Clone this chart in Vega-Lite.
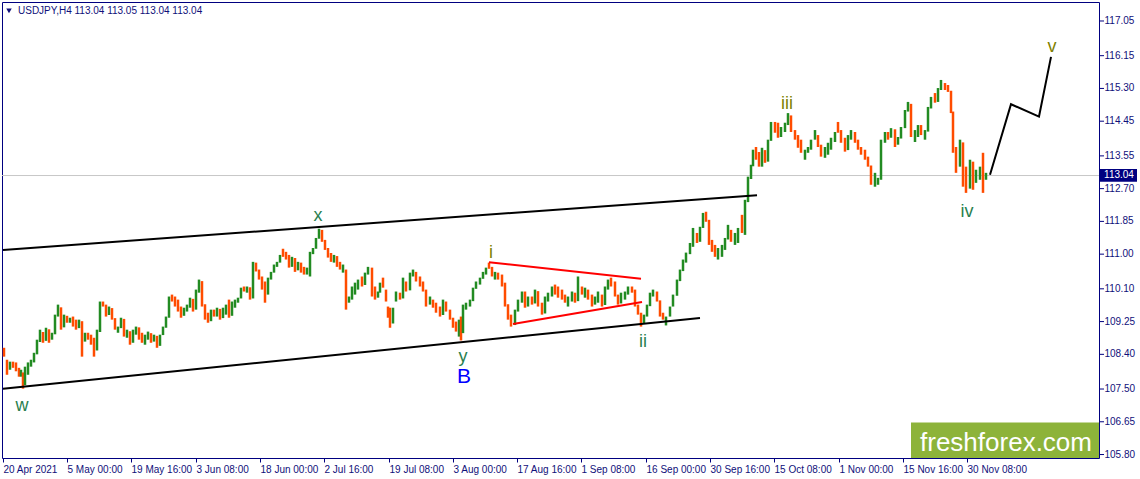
{
"$schema": "https://vega.github.io/schema/vega-lite/v6.json",
"width": 1097, "height": 456,
"autosize": {"type": "none"},
"padding": {"left": 2, "top": 2, "right": 41, "bottom": 21},
"background": "white",
"config": {"view": {"stroke": "#000080", "strokeWidth": 1}, "font": "Liberation Sans",
"axis": {"grid": false, "domain": false, "tickColor": "#000080", "tickSize": 4, "labelColor": "#10107a", "labelFont": "Liberation Sans", "labelFontSize": 10, "labelPadding": 2, "labelOverlap": false, "labelFlush": false, "labelSeparation": 0, "titleColor": "#ffffff"}},
"datasets": {
"bars": [
{"t":1,"o":108.55,"h":108.57,"l":108.34,"c":108.40},
{"t":4,"o":108.20,"h":108.26,"l":107.87,"c":107.98},
{"t":7,"o":108.02,"h":108.21,"l":108.00,"c":108.15},
{"t":10,"o":108.16,"h":108.21,"l":108.05,"c":108.08},
{"t":13,"o":108.10,"h":108.19,"l":107.96,"c":108.00},
{"t":16,"o":108.00,"h":108.05,"l":107.82,"c":107.88},
{"t":18,"o":107.85,"h":108.00,"l":107.82,"c":107.95},
{"t":20,"o":107.90,"h":107.93,"l":107.51,"c":107.60},
{"t":22,"o":107.62,"h":108.08,"l":107.60,"c":108.02},
{"t":25,"o":107.95,"h":108.19,"l":107.87,"c":108.15},
{"t":28,"o":108.12,"h":108.26,"l":108.08,"c":108.22},
{"t":31,"o":108.22,"h":108.44,"l":108.19,"c":108.40},
{"t":34,"o":108.42,"h":108.78,"l":108.40,"c":108.72},
{"t":37,"o":108.74,"h":109.04,"l":108.72,"c":108.98},
{"t":40,"o":108.94,"h":108.98,"l":108.70,"c":108.75},
{"t":43,"o":108.77,"h":109.09,"l":108.75,"c":109.05},
{"t":46,"o":109.00,"h":109.05,"l":108.70,"c":108.78},
{"t":49,"o":108.80,"h":108.96,"l":108.78,"c":108.92},
{"t":52,"o":108.94,"h":109.43,"l":108.92,"c":109.40},
{"t":55,"o":109.40,"h":109.69,"l":109.38,"c":109.62},
{"t":58,"o":109.35,"h":109.62,"l":109.04,"c":109.10},
{"t":61,"o":109.12,"h":109.43,"l":109.10,"c":109.40},
{"t":64,"o":109.36,"h":109.40,"l":109.22,"c":109.26},
{"t":67,"o":109.26,"h":109.35,"l":109.22,"c":109.32},
{"t":70,"o":109.32,"h":109.38,"l":109.12,"c":109.18},
{"t":73,"o":109.18,"h":109.30,"l":109.04,"c":109.08},
{"t":76,"o":109.10,"h":109.30,"l":109.08,"c":109.26},
{"t":79,"o":109.10,"h":109.26,"l":108.34,"c":108.80},
{"t":82,"o":108.78,"h":108.96,"l":108.73,"c":108.90},
{"t":85,"o":108.92,"h":108.96,"l":108.78,"c":108.82},
{"t":88,"o":108.82,"h":108.91,"l":108.65,"c":108.70},
{"t":91,"o":108.70,"h":108.83,"l":108.34,"c":108.50},
{"t":94,"o":108.52,"h":109.04,"l":108.50,"c":109.00},
{"t":97,"o":109.00,"h":109.77,"l":108.98,"c":109.70},
{"t":100,"o":109.75,"h":109.77,"l":109.64,"c":109.66},
{"t":103,"o":109.66,"h":109.69,"l":109.38,"c":109.42},
{"t":106,"o":109.45,"h":109.64,"l":109.42,"c":109.60},
{"t":109,"o":109.55,"h":109.60,"l":109.30,"c":109.34},
{"t":112,"o":109.28,"h":109.34,"l":109.04,"c":109.08},
{"t":115,"o":108.98,"h":109.12,"l":108.96,"c":109.10},
{"t":118,"o":109.10,"h":109.35,"l":109.08,"c":109.32},
{"t":121,"o":109.10,"h":109.32,"l":108.86,"c":108.90},
{"t":124,"o":108.90,"h":109.04,"l":108.83,"c":109.00},
{"t":127,"o":108.96,"h":109.00,"l":108.65,"c":108.70},
{"t":130,"o":108.72,"h":109.04,"l":108.70,"c":109.00},
{"t":133,"o":108.98,"h":109.12,"l":108.91,"c":109.10},
{"t":136,"o":108.97,"h":109.10,"l":108.78,"c":108.82},
{"t":139,"o":108.82,"h":108.96,"l":108.70,"c":108.74},
{"t":142,"o":108.74,"h":108.91,"l":108.65,"c":108.88},
{"t":145,"o":108.88,"h":108.99,"l":108.78,"c":108.95},
{"t":148,"o":108.90,"h":108.95,"l":108.70,"c":108.74},
{"t":151,"o":108.75,"h":108.91,"l":108.73,"c":108.88},
{"t":154,"o":108.82,"h":108.88,"l":108.57,"c":108.62},
{"t":157,"o":108.64,"h":108.91,"l":108.62,"c":108.90},
{"t":160,"o":108.92,"h":109.12,"l":108.90,"c":109.10},
{"t":163,"o":109.10,"h":109.38,"l":109.09,"c":109.35},
{"t":166,"o":109.37,"h":109.90,"l":109.35,"c":109.85},
{"t":169,"o":109.92,"h":109.95,"l":109.77,"c":109.80},
{"t":172,"o":109.80,"h":109.90,"l":109.64,"c":109.68},
{"t":175,"o":109.70,"h":109.82,"l":109.51,"c":109.55},
{"t":178,"o":109.60,"h":109.64,"l":109.35,"c":109.40},
{"t":181,"o":109.42,"h":109.61,"l":109.40,"c":109.58},
{"t":184,"o":109.56,"h":109.69,"l":109.51,"c":109.66},
{"t":187,"o":109.64,"h":109.87,"l":109.61,"c":109.82},
{"t":190,"o":109.80,"h":109.84,"l":109.51,"c":109.56},
{"t":193,"o":109.58,"h":110.08,"l":109.56,"c":110.02},
{"t":196,"o":110.02,"h":110.34,"l":110.00,"c":110.30},
{"t":199,"o":110.24,"h":110.30,"l":109.64,"c":109.70},
{"t":202,"o":109.68,"h":109.70,"l":109.30,"c":109.35},
{"t":205,"o":109.45,"h":109.48,"l":109.22,"c":109.26},
{"t":208,"o":109.28,"h":109.56,"l":109.26,"c":109.52},
{"t":211,"o":109.54,"h":109.56,"l":109.38,"c":109.40},
{"t":214,"o":109.40,"h":109.61,"l":109.38,"c":109.58},
{"t":217,"o":109.54,"h":109.58,"l":109.30,"c":109.34},
{"t":220,"o":109.36,"h":109.61,"l":109.34,"c":109.58},
{"t":223,"o":109.58,"h":109.69,"l":109.43,"c":109.65},
{"t":226,"o":109.78,"h":109.82,"l":109.35,"c":109.40},
{"t":229,"o":109.42,"h":109.77,"l":109.40,"c":109.74},
{"t":232,"o":109.70,"h":109.82,"l":109.61,"c":109.78},
{"t":235,"o":109.76,"h":109.87,"l":109.74,"c":109.85},
{"t":238,"o":109.87,"h":110.13,"l":109.85,"c":110.10},
{"t":241,"o":110.14,"h":110.16,"l":110.03,"c":110.05},
{"t":244,"o":110.05,"h":110.16,"l":110.00,"c":110.14},
{"t":247,"o":110.06,"h":110.14,"l":109.82,"c":109.86},
{"t":250,"o":109.88,"h":110.80,"l":109.85,"c":110.75},
{"t":253,"o":110.76,"h":110.78,"l":110.55,"c":110.58},
{"t":256,"o":110.58,"h":110.60,"l":110.34,"c":110.38},
{"t":259,"o":110.40,"h":110.42,"l":110.08,"c":110.12},
{"t":262,"o":110.20,"h":110.29,"l":109.74,"c":109.95},
{"t":265,"o":109.97,"h":110.39,"l":109.95,"c":110.36},
{"t":268,"o":110.36,"h":110.54,"l":110.34,"c":110.52},
{"t":271,"o":110.52,"h":110.73,"l":110.52,"c":110.70},
{"t":274,"o":110.68,"h":110.80,"l":110.67,"c":110.78},
{"t":277,"o":110.78,"h":110.98,"l":110.78,"c":110.96},
{"t":280,"o":111.10,"h":111.14,"l":110.93,"c":110.96},
{"t":283,"o":111.00,"h":111.06,"l":110.86,"c":110.88},
{"t":286,"o":110.96,"h":110.98,"l":110.65,"c":110.70},
{"t":289,"o":110.69,"h":110.93,"l":110.67,"c":110.90},
{"t":292,"o":110.84,"h":110.90,"l":110.54,"c":110.58},
{"t":295,"o":110.60,"h":110.80,"l":110.58,"c":110.76},
{"t":298,"o":110.75,"h":110.78,"l":110.52,"c":110.55},
{"t":301,"o":110.64,"h":110.67,"l":110.47,"c":110.50},
{"t":304,"o":110.49,"h":110.65,"l":110.47,"c":110.62},
{"t":307,"o":110.60,"h":111.06,"l":110.42,"c":111.00},
{"t":310,"o":111.02,"h":111.16,"l":111.00,"c":111.14},
{"t":313,"o":111.16,"h":111.42,"l":111.14,"c":111.40},
{"t":316,"o":111.42,"h":111.66,"l":111.40,"c":111.60},
{"t":319,"o":111.58,"h":111.63,"l":111.32,"c":111.36},
{"t":322,"o":111.35,"h":111.37,"l":111.11,"c":111.15},
{"t":325,"o":111.14,"h":111.16,"l":110.91,"c":110.95},
{"t":328,"o":111.00,"h":111.03,"l":110.80,"c":110.84},
{"t":331,"o":110.82,"h":110.98,"l":110.78,"c":110.95},
{"t":334,"o":110.88,"h":110.95,"l":110.67,"c":110.70},
{"t":337,"o":110.78,"h":110.80,"l":110.60,"c":110.64},
{"t":340,"o":110.54,"h":110.73,"l":110.52,"c":110.70},
{"t":343,"o":110.58,"h":110.60,"l":109.56,"c":109.80},
{"t":346,"o":109.76,"h":109.90,"l":109.74,"c":109.88},
{"t":349,"o":109.85,"h":110.16,"l":109.82,"c":110.12},
{"t":352,"o":109.98,"h":110.26,"l":109.95,"c":110.22},
{"t":355,"o":110.10,"h":110.34,"l":110.08,"c":110.30},
{"t":359,"o":110.40,"h":110.42,"l":110.16,"c":110.20},
{"t":362,"o":110.22,"h":110.52,"l":110.20,"c":110.48},
{"t":365,"o":110.49,"h":110.67,"l":110.47,"c":110.64},
{"t":369,"o":110.62,"h":110.65,"l":109.90,"c":110.00},
{"t":372,"o":110.10,"h":110.16,"l":109.82,"c":109.86},
{"t":375,"o":109.89,"h":110.03,"l":109.87,"c":110.00},
{"t":377,"o":110.02,"h":110.26,"l":110.00,"c":110.22},
{"t":380,"o":110.36,"h":110.39,"l":110.13,"c":110.16},
{"t":383,"o":110.05,"h":110.08,"l":109.77,"c":109.80},
{"t":385,"o":109.62,"h":109.64,"l":109.35,"c":109.40},
{"t":387,"o":109.50,"h":109.61,"l":109.09,"c":109.20},
{"t":390,"o":109.22,"h":109.61,"l":109.20,"c":109.58},
{"t":393,"o":109.79,"h":110.03,"l":109.77,"c":110.00},
{"t":397,"o":109.98,"h":110.00,"l":109.82,"c":109.85},
{"t":400,"o":109.87,"h":110.39,"l":109.85,"c":110.36},
{"t":403,"o":110.27,"h":110.29,"l":110.03,"c":110.06},
{"t":407,"o":110.08,"h":110.52,"l":110.06,"c":110.48},
{"t":410,"o":110.44,"h":110.60,"l":110.42,"c":110.57},
{"t":413,"o":110.52,"h":110.54,"l":110.29,"c":110.32},
{"t":417,"o":110.40,"h":110.42,"l":110.16,"c":110.20},
{"t":420,"o":110.26,"h":110.29,"l":110.03,"c":110.06},
{"t":423,"o":110.05,"h":110.08,"l":109.64,"c":109.70},
{"t":427,"o":109.71,"h":109.90,"l":109.69,"c":109.87},
{"t":430,"o":109.80,"h":109.82,"l":109.61,"c":109.64},
{"t":433,"o":109.72,"h":109.74,"l":109.48,"c":109.52},
{"t":437,"o":109.60,"h":109.64,"l":109.38,"c":109.42},
{"t":440,"o":109.44,"h":109.82,"l":109.42,"c":109.80},
{"t":443,"o":109.75,"h":109.77,"l":109.51,"c":109.54},
{"t":447,"o":109.52,"h":109.56,"l":109.30,"c":109.33},
{"t":450,"o":109.32,"h":109.35,"l":109.09,"c":109.12},
{"t":453,"o":109.22,"h":109.25,"l":108.99,"c":109.02},
{"t":456,"o":108.95,"h":109.30,"l":108.86,"c":109.25},
{"t":458,"o":109.30,"h":109.38,"l":108.76,"c":108.95},
{"t":460,"o":108.97,"h":109.69,"l":108.95,"c":109.65},
{"t":463,"o":109.58,"h":109.74,"l":109.56,"c":109.70},
{"t":467,"o":109.66,"h":109.82,"l":109.64,"c":109.78},
{"t":470,"o":109.80,"h":110.13,"l":109.78,"c":110.10},
{"t":473,"o":110.12,"h":110.29,"l":110.10,"c":110.26},
{"t":477,"o":110.23,"h":110.39,"l":110.21,"c":110.36},
{"t":480,"o":110.38,"h":110.54,"l":110.36,"c":110.52},
{"t":483,"o":110.49,"h":110.65,"l":110.47,"c":110.62},
{"t":486,"o":110.74,"h":110.78,"l":110.62,"c":110.67},
{"t":489,"o":110.64,"h":110.67,"l":110.42,"c":110.45},
{"t":492,"o":110.36,"h":110.54,"l":110.34,"c":110.50},
{"t":495,"o":110.50,"h":110.52,"l":110.34,"c":110.37},
{"t":499,"o":110.44,"h":110.47,"l":110.16,"c":110.20},
{"t":502,"o":110.22,"h":110.26,"l":109.64,"c":109.70},
{"t":505,"o":109.62,"h":109.70,"l":109.30,"c":109.34},
{"t":508,"o":109.40,"h":109.43,"l":109.12,"c":109.16},
{"t":512,"o":109.18,"h":109.56,"l":109.16,"c":109.52},
{"t":515,"o":109.53,"h":109.82,"l":109.51,"c":109.78},
{"t":519,"o":109.76,"h":110.03,"l":109.74,"c":110.00},
{"t":522,"o":110.00,"h":110.03,"l":109.61,"c":109.66},
{"t":525,"o":109.66,"h":109.90,"l":109.64,"c":109.86},
{"t":529,"o":109.88,"h":109.90,"l":109.69,"c":109.72},
{"t":532,"o":109.74,"h":110.08,"l":109.72,"c":110.04},
{"t":535,"o":110.02,"h":110.04,"l":109.64,"c":109.68},
{"t":539,"o":109.70,"h":109.74,"l":109.43,"c":109.46},
{"t":542,"o":109.48,"h":109.90,"l":109.46,"c":109.86},
{"t":545,"o":109.79,"h":110.00,"l":109.77,"c":109.96},
{"t":549,"o":109.92,"h":110.16,"l":109.90,"c":110.12},
{"t":552,"o":110.18,"h":110.21,"l":109.95,"c":109.98},
{"t":555,"o":110.14,"h":110.16,"l":109.87,"c":109.90},
{"t":559,"o":110.05,"h":110.08,"l":109.82,"c":109.85},
{"t":562,"o":109.92,"h":109.95,"l":109.74,"c":109.77},
{"t":565,"o":109.66,"h":109.90,"l":109.64,"c":109.86},
{"t":569,"o":109.79,"h":110.03,"l":109.77,"c":110.00},
{"t":572,"o":109.98,"h":110.00,"l":109.74,"c":109.78},
{"t":575,"o":109.80,"h":110.42,"l":109.78,"c":110.38},
{"t":579,"o":110.14,"h":110.16,"l":109.95,"c":109.98},
{"t":582,"o":109.89,"h":110.13,"l":109.87,"c":110.10},
{"t":585,"o":110.06,"h":110.08,"l":109.82,"c":109.85},
{"t":589,"o":109.92,"h":109.95,"l":109.64,"c":109.68},
{"t":592,"o":109.71,"h":109.90,"l":109.69,"c":109.87},
{"t":595,"o":109.76,"h":110.03,"l":109.74,"c":110.00},
{"t":599,"o":109.92,"h":109.95,"l":109.64,"c":109.68},
{"t":602,"o":109.70,"h":110.16,"l":109.68,"c":110.12},
{"t":605,"o":110.10,"h":110.34,"l":110.08,"c":110.30},
{"t":608,"o":110.36,"h":110.39,"l":110.16,"c":110.20},
{"t":612,"o":110.26,"h":110.29,"l":109.90,"c":109.95},
{"t":615,"o":109.92,"h":109.95,"l":109.69,"c":109.72},
{"t":618,"o":109.74,"h":110.00,"l":109.72,"c":109.97},
{"t":622,"o":109.85,"h":110.03,"l":109.82,"c":110.00},
{"t":625,"o":109.97,"h":110.16,"l":109.95,"c":110.12},
{"t":629,"o":110.14,"h":110.16,"l":110.00,"c":110.02},
{"t":632,"o":110.05,"h":110.08,"l":109.64,"c":109.68},
{"t":635,"o":109.66,"h":109.69,"l":109.43,"c":109.46},
{"t":638,"o":109.45,"h":109.48,"l":109.12,"c":109.20},
{"t":641,"o":109.22,"h":109.43,"l":109.20,"c":109.40},
{"t":644,"o":109.40,"h":109.69,"l":109.38,"c":109.65},
{"t":647,"o":109.67,"h":110.00,"l":109.65,"c":109.97},
{"t":650,"o":109.92,"h":110.08,"l":109.90,"c":110.05},
{"t":654,"o":110.00,"h":110.03,"l":109.77,"c":109.80},
{"t":657,"o":109.78,"h":109.80,"l":109.38,"c":109.42},
{"t":660,"o":109.45,"h":109.48,"l":109.30,"c":109.33},
{"t":663,"o":109.18,"h":109.38,"l":109.15,"c":109.35},
{"t":667,"o":109.40,"h":109.64,"l":109.38,"c":109.60},
{"t":670,"o":109.66,"h":109.95,"l":109.64,"c":109.92},
{"t":674,"o":109.94,"h":110.34,"l":109.92,"c":110.30},
{"t":677,"o":110.32,"h":110.60,"l":110.30,"c":110.56},
{"t":680,"o":110.58,"h":110.86,"l":110.56,"c":110.82},
{"t":683,"o":110.80,"h":111.04,"l":110.78,"c":111.00},
{"t":687,"o":111.02,"h":111.29,"l":111.00,"c":111.25},
{"t":690,"o":111.22,"h":111.68,"l":111.19,"c":111.62},
{"t":694,"o":111.52,"h":111.55,"l":111.29,"c":111.32},
{"t":697,"o":111.34,"h":111.71,"l":111.32,"c":111.68},
{"t":700,"o":111.70,"h":112.07,"l":111.68,"c":112.04},
{"t":703,"o":112.06,"h":112.10,"l":111.84,"c":111.87},
{"t":706,"o":111.86,"h":111.89,"l":111.24,"c":111.30},
{"t":709,"o":111.34,"h":111.37,"l":111.06,"c":111.10},
{"t":712,"o":111.20,"h":111.24,"l":110.93,"c":110.96},
{"t":715,"o":110.88,"h":111.16,"l":110.86,"c":111.12},
{"t":719,"o":111.10,"h":111.24,"l":110.93,"c":111.20},
{"t":722,"o":111.14,"h":111.42,"l":111.11,"c":111.38},
{"t":725,"o":111.40,"h":111.76,"l":111.38,"c":111.72},
{"t":728,"o":111.60,"h":111.63,"l":111.32,"c":111.36},
{"t":732,"o":111.27,"h":111.55,"l":111.24,"c":111.50},
{"t":735,"o":111.32,"h":111.68,"l":111.29,"c":111.64},
{"t":739,"o":111.95,"h":112.02,"l":111.55,"c":111.58},
{"t":742,"o":111.55,"h":112.41,"l":111.50,"c":112.35},
{"t":745,"o":112.37,"h":113.01,"l":112.35,"c":112.95},
{"t":748,"o":112.97,"h":113.32,"l":112.95,"c":113.28},
{"t":750,"o":113.30,"h":113.71,"l":113.28,"c":113.66},
{"t":753,"o":113.75,"h":113.78,"l":113.45,"c":113.48},
{"t":756,"o":113.62,"h":113.65,"l":113.27,"c":113.32},
{"t":759,"o":113.30,"h":113.76,"l":113.27,"c":113.70},
{"t":762,"o":113.68,"h":113.70,"l":113.37,"c":113.40},
{"t":765,"o":113.42,"h":113.97,"l":113.40,"c":113.94},
{"t":768,"o":113.96,"h":114.43,"l":113.94,"c":114.40},
{"t":772,"o":114.40,"h":114.43,"l":114.15,"c":114.18},
{"t":775,"o":114.38,"h":114.41,"l":114.02,"c":114.06},
{"t":778,"o":114.06,"h":114.30,"l":114.04,"c":114.26},
{"t":782,"o":114.19,"h":114.41,"l":114.17,"c":114.38},
{"t":785,"o":114.38,"h":114.66,"l":114.35,"c":114.60},
{"t":788,"o":114.58,"h":114.60,"l":114.17,"c":114.20},
{"t":792,"o":114.20,"h":114.22,"l":113.97,"c":114.00},
{"t":795,"o":114.06,"h":114.09,"l":113.76,"c":113.80},
{"t":798,"o":113.94,"h":113.97,"l":113.63,"c":113.66},
{"t":802,"o":113.47,"h":113.71,"l":113.45,"c":113.68},
{"t":805,"o":113.65,"h":113.78,"l":113.63,"c":113.76},
{"t":808,"o":113.73,"h":113.97,"l":113.71,"c":113.94},
{"t":812,"o":113.99,"h":114.22,"l":113.97,"c":114.18},
{"t":815,"o":114.06,"h":114.09,"l":113.78,"c":113.82},
{"t":818,"o":113.80,"h":113.84,"l":113.53,"c":113.56},
{"t":822,"o":113.52,"h":113.78,"l":113.50,"c":113.74},
{"t":825,"o":113.60,"h":113.89,"l":113.58,"c":113.86},
{"t":828,"o":113.73,"h":114.02,"l":113.71,"c":113.98},
{"t":832,"o":113.93,"h":114.17,"l":113.91,"c":114.14},
{"t":835,"o":114.40,"h":114.43,"l":114.15,"c":114.18},
{"t":838,"o":114.18,"h":114.22,"l":113.89,"c":113.92},
{"t":842,"o":113.98,"h":114.02,"l":113.66,"c":113.70},
{"t":845,"o":113.72,"h":114.09,"l":113.70,"c":114.06},
{"t":848,"o":113.99,"h":114.22,"l":113.97,"c":114.18},
{"t":852,"o":114.14,"h":114.17,"l":113.89,"c":113.92},
{"t":855,"o":113.94,"h":113.97,"l":113.71,"c":113.74},
{"t":858,"o":113.76,"h":113.78,"l":113.58,"c":113.60},
{"t":862,"o":113.68,"h":113.71,"l":113.45,"c":113.48},
{"t":865,"o":113.50,"h":113.53,"l":113.27,"c":113.30},
{"t":868,"o":113.28,"h":113.30,"l":112.80,"c":112.85},
{"t":872,"o":112.78,"h":113.11,"l":112.75,"c":113.05},
{"t":875,"o":112.82,"h":112.98,"l":112.80,"c":112.95},
{"t":878,"o":112.95,"h":113.97,"l":112.93,"c":113.90},
{"t":882,"o":113.91,"h":114.17,"l":113.89,"c":114.14},
{"t":885,"o":114.15,"h":114.17,"l":113.97,"c":113.99},
{"t":888,"o":114.04,"h":114.27,"l":114.02,"c":114.24},
{"t":892,"o":114.22,"h":114.24,"l":113.78,"c":113.82},
{"t":895,"o":113.86,"h":114.04,"l":113.84,"c":114.00},
{"t":898,"o":114.02,"h":114.30,"l":114.00,"c":114.27},
{"t":902,"o":114.29,"h":114.74,"l":114.27,"c":114.70},
{"t":905,"o":114.72,"h":114.95,"l":114.70,"c":114.90},
{"t":908,"o":114.88,"h":114.90,"l":114.04,"c":114.08},
{"t":912,"o":113.94,"h":114.22,"l":113.91,"c":114.18},
{"t":915,"o":114.06,"h":114.35,"l":114.04,"c":114.30},
{"t":918,"o":114.32,"h":114.35,"l":114.09,"c":114.12},
{"t":922,"o":113.99,"h":114.22,"l":113.97,"c":114.18},
{"t":925,"o":114.20,"h":114.82,"l":114.18,"c":114.78},
{"t":928,"o":114.80,"h":115.08,"l":114.78,"c":115.04},
{"t":932,"o":115.15,"h":115.18,"l":114.93,"c":114.96},
{"t":935,"o":114.98,"h":115.31,"l":114.95,"c":115.26},
{"t":938,"o":115.28,"h":115.52,"l":115.26,"c":115.48},
{"t":942,"o":115.42,"h":115.44,"l":115.26,"c":115.30},
{"t":945,"o":115.36,"h":115.39,"l":115.21,"c":115.24},
{"t":948,"o":115.22,"h":115.24,"l":114.66,"c":114.70},
{"t":950,"o":114.68,"h":114.70,"l":113.63,"c":113.70},
{"t":953,"o":113.74,"h":113.78,"l":113.11,"c":113.20},
{"t":957,"o":113.30,"h":113.97,"l":113.27,"c":113.90},
{"t":960,"o":113.88,"h":113.90,"l":112.75,"c":112.85},
{"t":963,"o":113.20,"h":113.27,"l":112.59,"c":112.70},
{"t":967,"o":112.72,"h":113.45,"l":112.70,"c":113.40},
{"t":970,"o":113.38,"h":113.40,"l":112.67,"c":112.72},
{"t":973,"o":112.88,"h":113.19,"l":112.85,"c":113.15},
{"t":977,"o":112.96,"h":113.27,"l":112.93,"c":113.24},
{"t":980,"o":113.26,"h":113.63,"l":112.59,"c":112.90},
{"t":983,"o":112.95,"h":113.11,"l":112.93,"c":113.04}
],
"channel": [
{"g":"upper","t":0,"p":111.11},{"g":"upper","t":754,"p":112.53},
{"g":"lower","t":0,"p":107.51},{"g":"lower","t":697,"p":109.34}
],
"triangle": [
{"g":"top","t":486,"p":110.79},{"g":"top","t":638,"p":110.36},
{"g":"bottom","t":510,"p":109.19},{"g":"bottom","t":639,"p":109.76}
],
"projection": [
{"t":987,"p":113.06},{"t":1008,"p":114.89},{"t":1036,"p":114.57},{"t":1048,"p":116.12}
],
"waves": [
{"lab":"w","deg":"a","t":19,"p":106.92},
{"lab":"x","deg":"a","t":315,"p":111.86},
{"lab":"y","deg":"a","t":460,"p":108.21},
{"lab":"ii","deg":"a","t":640,"p":108.60},
{"lab":"iv","deg":"a","t":964,"p":111.97},
{"lab":"i","deg":"b","t":488,"p":110.90},
{"lab":"iii","deg":"b","t":784,"p":114.77},
{"lab":"v","deg":"b","t":1049,"p":116.25}
],
"major": [{"lab":"B","t":461,"p":107.66}],
"yticks": [{"v":105.80},{"v":106.65},{"v":107.50},{"v":108.40},{"v":109.25},{"v":110.10},{"v":111.00},{"v":111.85},{"v":112.70},{"v":113.55},{"v":114.45},{"v":115.30},{"v":116.15},{"v":117.05}],
"one": [{}]
},
"layer": [
{
"data": {"name": "one"},
"mark": {"type": "rule", "color": "#c8c8c8", "strokeWidth": 1},
"encoding": {"y": {"datum": 113.04, "type": "quantitative", "scale": {"domain": [105.71, 117.543], "nice": false, "zero": false}, "axis": null}}
},
{
"data": {"name": "bars"},
"mark": {"type": "rule", "strokeWidth": 2.5},
"encoding": {
"x": {"field": "t", "type": "quantitative", "scale": {"domain": [-1, 1096], "nice": false, "zero": false},
"axis": {"values": [0,64,128,193,257,321,386,450,514,578,643,707,771,836,900,964],
"labelExpr": "['20 Apr 2021','5 May 00:00','19 May 16:00','3 Jun 08:00','18 Jun 00:00','2 Jul 16:00','19 Jul 08:00','3 Aug 00:00','17 Aug 16:00','1 Sep 08:00','16 Sep 00:00','30 Sep 16:00','15 Oct 08:00','1 Nov 00:00','15 Nov 16:00','30 Nov 08:00'][indexof([0,64,128,193,257,321,386,450,514,578,643,707,771,836,900,964], datum.value)]",
"title": null, "labelAlign": "left", "labelBaseline": "top", "labelBound": false, "labelOverlap": false}},
"y": {"field": "l", "type": "quantitative", "scale": {"domain": [105.71, 117.543], "nice": false, "zero": false}, "axis": null},
"y2": {"field": "h"},
"color": {"condition": {"test": "datum.c >= datum.o", "value": "#228b22"}, "value": "#ff4c00"}
}
},
{
"data": {"name": "channel"},
"mark": {"type": "line", "color": "#000000", "strokeWidth": 2},
"encoding": {
"x": {"field": "t", "type": "quantitative", "scale": {"domain": [-1, 1096], "nice": false, "zero": false}},
"y": {"field": "p", "type": "quantitative", "scale": {"domain": [105.71, 117.543], "nice": false, "zero": false}, "axis": null},
"detail": {"field": "g"}
}
},
{
"data": {"name": "triangle"},
"mark": {"type": "line", "color": "#ff0000", "strokeWidth": 2},
"encoding": {
"x": {"field": "t", "type": "quantitative", "scale": {"domain": [-1, 1096], "nice": false, "zero": false}},
"y": {"field": "p", "type": "quantitative", "scale": {"domain": [105.71, 117.543], "nice": false, "zero": false}, "axis": null},
"detail": {"field": "g"}
}
},
{
"data": {"name": "projection"},
"mark": {"type": "line", "color": "#000000", "strokeWidth": 2},
"encoding": {
"x": {"field": "t", "type": "quantitative", "scale": {"domain": [-1, 1096], "nice": false, "zero": false}},
"y": {"field": "p", "type": "quantitative", "scale": {"domain": [105.71, 117.543], "nice": false, "zero": false}, "axis": null}
}
},
{
"data": {"name": "waves"},
"mark": {"type": "text", "font": "Liberation Sans", "fontSize": 18, "align": "center", "baseline": "alphabetic"},
"encoding": {
"x": {"field": "t", "type": "quantitative", "scale": {"domain": [-1, 1096], "nice": false, "zero": false}},
"y": {"field": "p", "type": "quantitative", "scale": {"domain": [105.71, 117.543], "nice": false, "zero": false}, "axis": null},
"text": {"field": "lab"},
"color": {"field": "deg", "type": "nominal", "scale": {"domain": ["a", "b"], "range": ["#2a7f4f", "#7f7f00"]}, "legend": null}
}
},
{
"data": {"name": "major"},
"mark": {"type": "text", "font": "Liberation Sans", "fontSize": 21, "align": "center", "baseline": "alphabetic", "color": "#0000ff"},
"encoding": {
"x": {"field": "t", "type": "quantitative", "scale": {"domain": [-1, 1096], "nice": false, "zero": false}},
"y": {"field": "p", "type": "quantitative", "scale": {"domain": [105.71, 117.543], "nice": false, "zero": false}, "axis": null},
"text": {"field": "lab"}
}
},
{
"data": {"name": "yticks"},
"mark": {"type": "rule", "color": "#000080", "strokeWidth": 1, "clip": false},
"encoding": {
"x": {"datum": 1097, "type": "quantitative", "scale": {"domain": [-1, 1096], "nice": false, "zero": false}},
"x2": {"datum": 1101},
"y": {"field": "v", "type": "quantitative", "scale": {"domain": [105.71, 117.543], "nice": false, "zero": false}, "axis": null}
}
},
{
"data": {"name": "yticks"},
"mark": {"type": "text", "font": "Liberation Sans", "fontSize": 10, "color": "#10107a", "align": "left", "baseline": "middle", "clip": false},
"encoding": {
"x": {"datum": 1101.5, "type": "quantitative", "scale": {"domain": [-1, 1096], "nice": false, "zero": false}},
"y": {"field": "v", "type": "quantitative", "scale": {"domain": [105.71, 117.543], "nice": false, "zero": false}, "axis": null},
"text": {"field": "v", "type": "quantitative", "format": ".2f"}
}
},
{
"data": {"name": "one"},
"mark": {"type": "rect", "color": "#8db33a", "clip": false},
"encoding": {
"x": {"datum": 908, "type": "quantitative", "scale": {"domain": [-1, 1096], "nice": false, "zero": false}},
"x2": {"datum": 1096},
"y": {"datum": 105.71, "type": "quantitative", "scale": {"domain": [105.71, 117.543], "nice": false, "zero": false}, "axis": null},
"y2": {"datum": 106.63}
}
},
{
"data": {"name": "one"},
"mark": {"type": "text", "font": "Liberation Sans", "fontSize": 26, "color": "#ffffff", "align": "center", "baseline": "alphabetic", "text": "freshforex.com"},
"encoding": {
"x": {"datum": 1003, "type": "quantitative", "scale": {"domain": [-1, 1096], "nice": false, "zero": false}},
"y": {"datum": 105.90, "type": "quantitative", "scale": {"domain": [105.71, 117.543], "nice": false, "zero": false}, "axis": null}
}
},
{
"data": {"name": "one"},
"mark": {"type": "rect", "color": "#000080", "clip": false},
"encoding": {
"x": {"datum": 1097, "type": "quantitative", "scale": {"domain": [-1, 1096], "nice": false, "zero": false}},
"x2": {"datum": 1134},
"y": {"datum": 112.88, "type": "quantitative", "scale": {"domain": [105.71, 117.543], "nice": false, "zero": false}, "axis": null},
"y2": {"datum": 113.21}
}
},
{
"data": {"name": "one"},
"mark": {"type": "text", "font": "Liberation Sans", "fontSize": 10, "color": "#ffffff", "align": "center", "baseline": "middle", "text": "113.04", "clip": false},
"encoding": {
"x": {"datum": 1116, "type": "quantitative", "scale": {"domain": [-1, 1096], "nice": false, "zero": false}},
"y": {"datum": 113.045, "type": "quantitative", "scale": {"domain": [105.71, 117.543], "nice": false, "zero": false}, "axis": null}
}
},
{
"data": {"name": "one"},
"mark": {"type": "point", "shape": "triangle-down", "filled": true, "color": "#10107a", "size": 30, "opacity": 1},
"encoding": {
"x": {"datum": 6, "type": "quantitative", "scale": {"domain": [-1, 1096], "nice": false, "zero": false}},
"y": {"datum": 117.31, "type": "quantitative", "scale": {"domain": [105.71, 117.543], "nice": false, "zero": false}, "axis": null}
}
},
{
"data": {"name": "one"},
"mark": {"type": "text", "font": "Liberation Sans", "fontSize": 10, "color": "#10107a", "align": "left", "baseline": "middle", "text": "USDJPY,H4  113.04 113.05 113.04 113.04"},
"encoding": {
"x": {"datum": 15, "type": "quantitative", "scale": {"domain": [-1, 1096], "nice": false, "zero": false}},
"y": {"datum": 117.30, "type": "quantitative", "scale": {"domain": [105.71, 117.543], "nice": false, "zero": false}, "axis": null}
}
}
]
}
